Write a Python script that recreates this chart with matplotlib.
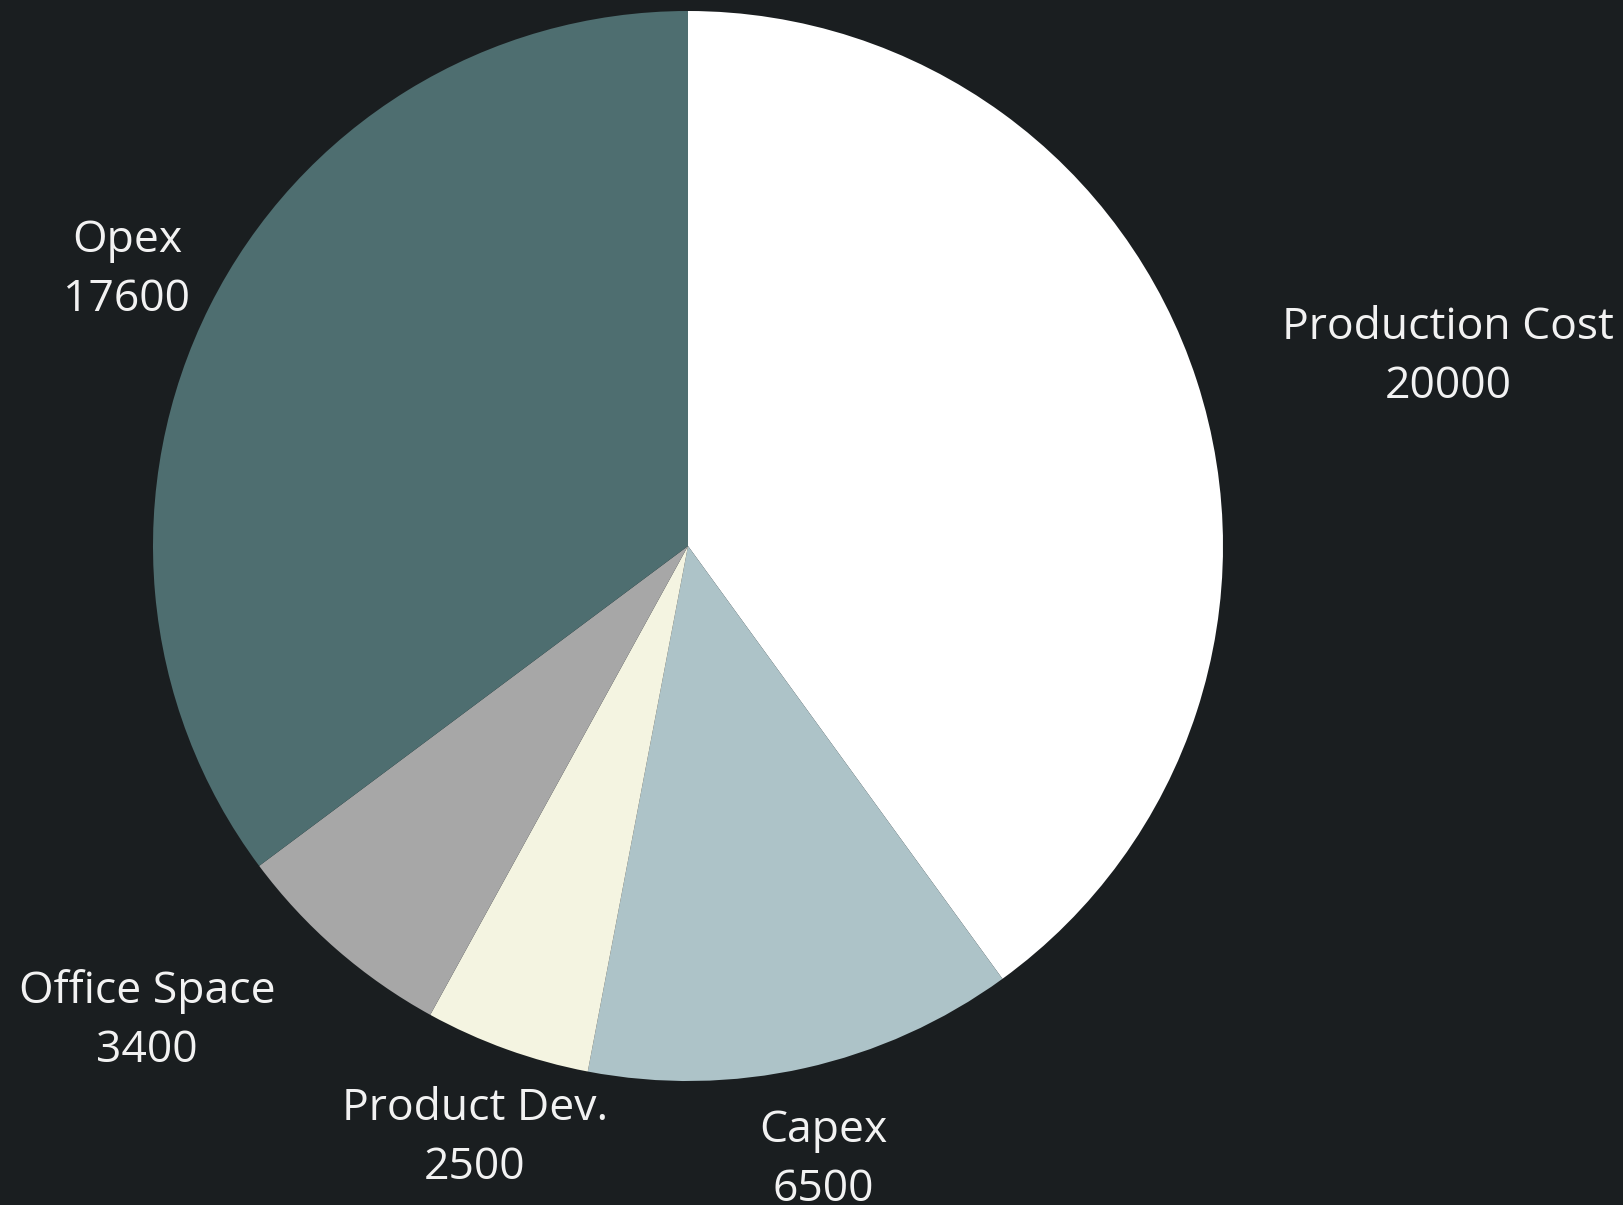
import matplotlib
matplotlib.use("Agg")
import matplotlib.pyplot as plt

# data
labels = ["Production Cost", "Capex", "Product Dev.", "Office Space", "Opex"]
values = [20000, 6500, 2500, 3400, 17600]
colors = ["#ffffff", "#adc3c8", "#f4f4e1", "#a7a7a7", "#4e6e70"]

# label centres in pixel coords (x, y of the middle between the two lines)
label_pos = [(1448, 357), (823, 1160), (475, 1138), (147, 1021), (127, 270)]

W, H = 1624, 1205
bg = "#1a1e20"

fig = plt.figure(figsize=(W / 100, H / 100), dpi=100, facecolor=bg)
ax = fig.add_axes([0, 0, 1, 1])
ax.set_facecolor(bg)

# y axis is flipped below, so start at -90 and go counterclockwise in data
# coords to get a clockwise pie starting at 12 o'clock on screen
ax.pie(values, colors=colors, startangle=-90, counterclock=True,
       center=(688, 546), radius=535, frame=True,
       wedgeprops=dict(linewidth=0))
ax.set_xlim(0, W)
ax.set_ylim(H, 0)
ax.set_aspect("equal")
ax.axis("off")

for lab, val, (x, y) in zip(labels, values, label_pos):
    ax.text(x, y, f"{lab}\n{val}", ha="center", va="center", color="#f2f2f2",
            fontsize=32, family="Open Sans", linespacing=1.42)

fig.savefig("out.png", dpi=100, facecolor=bg)
